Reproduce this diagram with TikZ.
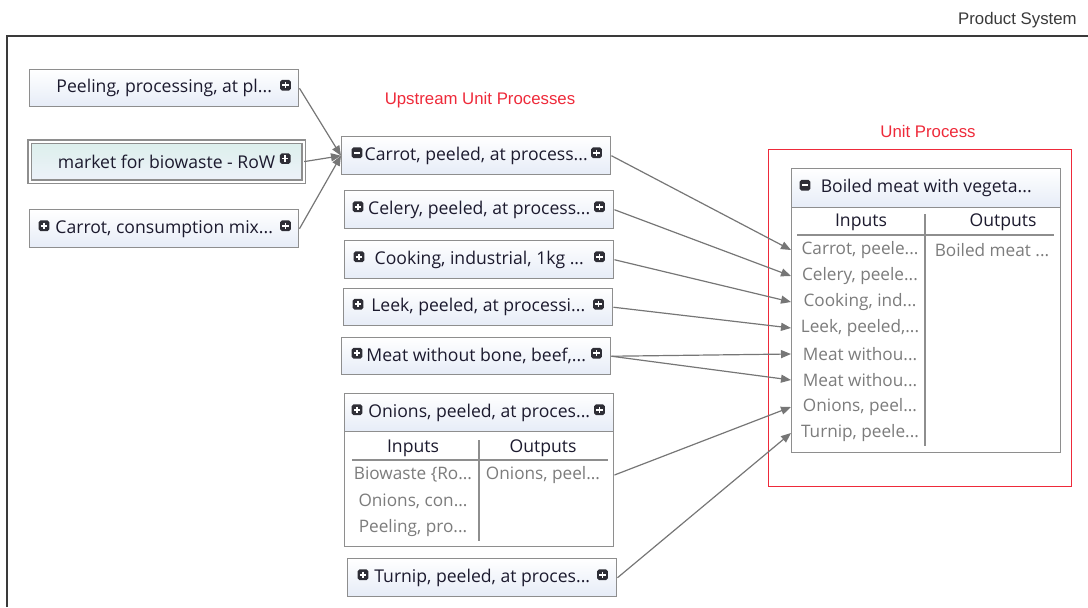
\documentclass[tikz,border=0pt]{standalone}
\usepackage{fontspec}
\setmainfont{Open Sans}
\newfontfamily\arialfont{Liberation Sans}
\usetikzlibrary{calc,arrows.meta}

\definecolor{framegray}{HTML}{3A3A3A}
\definecolor{boxgray}{HTML}{8E8E8E}
\definecolor{linkgray}{HTML}{767676}
\definecolor{rowgray}{HTML}{7C7C7C}
\definecolor{textdark}{HTML}{1C1A2E}
\definecolor{shadebot}{HTML}{E6ECF7}
\definecolor{labelred}{HTML}{EE2A3A}
\definecolor{tealshade}{HTML}{DCEFEC}
\definecolor{icondark}{HTML}{2E2E36}

\newcommand{\boxfont}{\fontsize{13.2}{15}\selectfont}
\newcommand{\rowfont}{\fontsize{12.9}{15}\selectfont}
\newcommand{\labelfont}{\arialfont\fontsize{12.6}{15}\selectfont}

\tikzset{
  boxsize/.style 2 args={minimum width={#1*0.75pt}, minimum height={#2*0.75pt}},
  procbox/.style={draw=boxgray, line width=1.1pt, top color=white, bottom color=shadebot,
    inner sep=0pt, anchor=north west, text=textdark, font=\boxfont},
  tablebox/.style={draw=boxgray, line width=1.1pt, fill=white, inner sep=0pt, anchor=north west},
  iconbase/.style={fill=icondark, rounded corners=1.4pt, minimum size=8pt, inner sep=0pt},
  plusicon/.style={iconbase, path picture={
      \draw[white, line width=1.2pt]
        ($(path picture bounding box.center)+(-3.2,0)$) -- ++(6.4,0)
        ($(path picture bounding box.center)+(0,-3.2)$) -- ++(0,6.4);}},
  minusicon/.style={iconbase, path picture={
      \draw[white, line width=1.2pt]
        ($(path picture bounding box.center)+(-3.2,0)$) -- ++(6.4,0);}},
  colhead/.style={text=textdark, font=\boxfont, inner sep=0pt},
  rowtext/.style={text=rowgray, font=\rowfont, inner sep=0pt},
  tableline/.style={draw=boxgray, line width=1pt},
  redlabel/.style={text=labelred, font=\labelfont, inner sep=0pt},
  link/.style={draw=linkgray, line width=0.9pt, -{Triangle[length=7.5pt,width=6pt]}},
}

\begin{document}
\begin{tikzpicture}[x=0.75pt,y=-0.75pt]
\useasboundingbox (0,0) rectangle (1088,607);

% outer product-system frame
\draw[framegray, line width=1.4pt] (7,607) -- (7,36) -- (1088,36);
\node[text=framegray, font=\labelfont, inner sep=0pt, anchor=east] (psLabel) at (1077,20) {Product System};

% section labels
\node[redlabel] (upLabel) at (480,100) {Upstream Unit Processes};
\node[redlabel] (unitLabel) at (928,131) {Unit Process};

% unit process frame
\node[draw=labelred, line width=1.1pt, boxsize={303}{337}, anchor=north west, inner sep=0pt] (unitFrame) at (768,149) {};

% second-tier suppliers
\node[procbox, boxsize={269}{37}] (peel) at (29,69) {Peeling, processing, at pl...};
\node[procbox, boxsize={274}{40}, draw=boxgray, double=white, double distance=1.5pt,
      line width=0.9pt, top color=tealshade, bottom color=shadebot!70!white] (market) at (29,141) {market for biowaste - RoW};
\node[procbox, boxsize={269}{38}] (cmix) at (29,209) {Carrot, consumption mix...};

% upstream unit processes
\node[procbox, boxsize={269}{38}] (carrot) at (341,136) {Carrot, peeled, at process...};
\node[procbox, boxsize={269}{38}] (celery) at (344,190) {Celery, peeled, at process...};
\node[procbox, boxsize={269}{38}] (cooking) at (344,240) {Cooking, industrial, 1kg ...};
\node[procbox, boxsize={269}{37}] (leek) at (343,288) {Leek, peeled, at processi...};
\node[procbox, boxsize={269}{37}] (meat) at (341,337) {Meat without bone, beef,...};

% expanded onions process
\node[tablebox, boxsize={269}{153}] (onions) at (344,393) {};
\node[procbox, boxsize={269}{38}] (onionsHead) at (344,393) {Onions, peeled, at proces...};
\node[colhead] (onionsInH) at (413,448) {Inputs};
\node[colhead] (onionsOutH) at (543,448) {Outputs};
\draw[tableline] (352,460) -- (608,460);
\draw[tableline] (479,440) -- (479,541);
\node[rowtext] (onionsIn1) at (413,475) {Biowaste \{Ro...};
\node[rowtext] (onionsIn2) at (413,501) {Onions, con...};
\node[rowtext] (onionsIn3) at (413,528) {Peeling, pro...};
\node[rowtext] (onionsOut1) at (543,475) {Onions, peel...};

\node[procbox, boxsize={269}{38}] (turnip) at (347,558) {Turnip, peeled, at proces...};

% expanded unit process
\node[tablebox, boxsize={269}{284}] (boiled) at (791,168) {};
\node[procbox, boxsize={269}{39}] (boiledHead) at (791,168) {Boiled meat with vegeta...};
\node[colhead] (boiledInH) at (861,222) {Inputs};
\node[colhead] (boiledOutH) at (1003,222) {Outputs};
\draw[tableline] (797,235) -- (1054,235);
\draw[tableline] (925,214) -- (925,446);
\node[rowtext] (in1) at (860,250) {Carrot, peele...};
\node[rowtext] (in2) at (860,276) {Celery, peele...};
\node[rowtext] (in3) at (860,302) {Cooking, ind...};
\node[rowtext] (in4) at (860,328) {Leek, peeled,...};
\node[rowtext] (in5) at (860,354) {Meat withou...};
\node[rowtext] (in6) at (860,380) {Meat withou...};
\node[rowtext] (in7) at (860,407) {Onions, peel...};
\node[rowtext] (in8) at (860,433) {Turnip, peele...};
\node[rowtext] (out1) at (992,250) {Boiled meat ...};

% expand / collapse buttons
\node[plusicon] (peelR) at ($(peel.east)+(-14,-3)$) {};
\node[plusicon] (marketR) at ($(market.east)+(-19,-3)$) {};
\node[plusicon] (cmixL) at ($(cmix.west)+(15,-3)$) {};
\node[plusicon] (cmixR) at ($(cmix.east)+(-14,-3)$) {};
\node[minusicon] (carrotL) at ($(carrot.west)+(16,-3)$) {};
\node[plusicon] (carrotR) at ($(carrot.east)+(-15,-3)$) {};
\node[plusicon] (celeryL) at ($(celery.west)+(14,-3)$) {};
\node[plusicon] (celeryR) at ($(celery.east)+(-15,-3)$) {};
\node[plusicon] (cookingL) at ($(cooking.west)+(15,-3)$) {};
\node[plusicon] (cookingR) at ($(cooking.east)+(-15,-3)$) {};
\node[plusicon] (leekL) at ($(leek.west)+(15,-3)$) {};
\node[plusicon] (leekR) at ($(leek.east)+(-15,-3)$) {};
\node[plusicon] (meatL) at ($(meat.west)+(16,-3)$) {};
\node[plusicon] (meatR) at ($(meat.east)+(-15,-3)$) {};
\node[plusicon] (onionsL) at ($(onionsHead.west)+(13,-3)$) {};
\node[plusicon] (onionsR) at ($(onionsHead.east)+(-15,-3)$) {};
\node[plusicon] (turnipL) at ($(turnip.west)+(16,-3)$) {};
\node[plusicon] (turnipR) at ($(turnip.east)+(-15,-3)$) {};
\node[minusicon] (boiledL) at ($(boiledHead.west)+(14,-3)$) {};

% supplier links into the carrot process
\draw[link] (peel.east) -- (carrot.west);
\draw[link] (market.east) -- (carrot.west);
\draw[link] (cmix.east) -- (carrot.west);

% upstream links into the unit process inputs
\draw[link] (carrot.east) -- (boiled.west |- in1);
\draw[link] (celery.east) -- (boiled.west |- in2);
\draw[link] (cooking.east) -- (boiled.west |- in3);
\draw[link] (leek.east) -- (boiled.west |- in4);
\draw[link] (meat.east) -- (boiled.west |- in5);
\draw[link] (meat.east) -- (boiled.west |- in6);
\draw[link] (onions.east |- onionsOut1) -- (boiled.west |- in7);
\draw[link] (turnip.east) -- (boiled.west |- in8);
\end{tikzpicture}
\end{document}
